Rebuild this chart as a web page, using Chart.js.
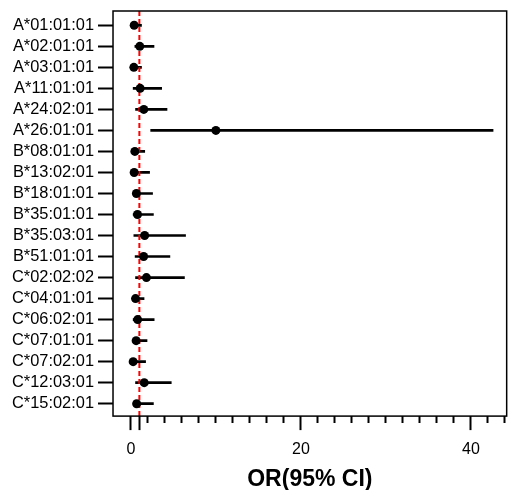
<!DOCTYPE html>
<html>
<head>
<meta charset="utf-8">
<script src="https://cdn.jsdelivr.net/npm/chart.js@4/dist/chart.umd.min.js"></script>
<style>
  html, body { margin: 0; padding: 0; background: #fff; }
  #wrap { width: 515px; height: 490px; }
</style>
</head>
<body>
<div id="wrap"><canvas id="forest"></canvas></div>
<script>
// alleles, top to bottom
var alleles = ['A*01:01:01', 'A*02:01:01', 'A*03:01:01', 'A*11:01:01', 'A*24:02:01', 'A*26:01:01',
    'B*08:01:01', 'B*13:02:01', 'B*18:01:01', 'B*35:01:01', 'B*35:03:01', 'B*51:01:01',
    'C*02:02:02', 'C*04:01:01', 'C*06:02:01', 'C*07:01:01', 'C*07:02:01', 'C*12:03:01', 'C*15:02:01'];
var orValues = [0.39, 1.05, 0.35, 1.09, 1.52, 10.0, 0.47, 0.39, 0.65, 0.78, 1.62, 1.5, 1.83, 0.55, 0.8, 0.62, 0.27, 1.57, 0.68];
var ciLow = [0.15, 0.47, 0.14, 0.27, 0.55, 2.33, 0.2, 0.16, 0.25, 0.27, 0.35, 0.5, 0.55, 0.22, 0.27, 0.25, 0.1, 0.55, 0.28];
var ciHigh = [1.25, 2.72, 1.25, 3.62, 4.25, 42.6, 1.63, 2.2, 2.55, 2.65, 6.43, 4.59, 6.3, 1.55, 2.74, 1.9, 1.73, 4.75, 2.65];
var refLine = 1;
var xTicks = [0, 1, 2, 4, 6, 8, 10, 12, 14, 16, 18, 20, 22, 24, 26, 28, 30, 32, 34, 36, 38, 40, 42, 44];
var xLabels = [0, 20, 40];
var longTicks = [0, 1, 20, 40];

var yMin = -0.68, yMax = 18.59;

Chart.defaults.font.family = '"Liberation Sans", Arial, sans-serif';
Chart.defaults.color = '#000';

var boxPlugin = {
    id: 'box',
    afterDatasetsDraw: function (chart) {
        var a = chart.chartArea;
        var c = chart.ctx;
        c.save();
        c.strokeStyle = '#000';
        c.lineWidth = 1.5;
        c.strokeRect(a.left, a.top, a.right - a.left, a.bottom - a.top);
        c.restore();
    }
};

var ctx = document.getElementById('forest').getContext('2d');
var chart = new Chart(ctx, {
    type: 'bar',
    data: {
        datasets: [
            {
                type: 'scatter',
                data: alleles.map(function (a, i) { return { x: orValues[i], y: i }; }),
                pointRadius: 4.5,
                pointBackgroundColor: '#000',
                pointBorderWidth: 0,
                order: 0
            },
            {
                type: 'line',
                data: [{ x: refLine, y: yMin }, { x: refLine, y: yMax }],
                borderColor: '#ff0000',
                borderWidth: 2,
                borderDash: [5, 3],
                pointRadius: 0,
                order: 1
            },
            {
                type: 'bar',
                indexAxis: 'y',
                data: alleles.map(function (a, i) { return { x: [ciLow[i], ciHigh[i]], y: i }; }),
                backgroundColor: '#000',
                borderWidth: 0,
                barThickness: 2,
                order: 2
            }
        ]
    },
    options: {
        responsive: true,
        maintainAspectRatio: false,
        animation: false,
        layout: { padding: { top: 11, right: 6, left: 8, bottom: 0 } },
        plugins: { legend: { display: false }, tooltip: { enabled: false } },
        scales: {
            x: {
                type: 'linear',
                offset: false,
                min: -2.1,
                max: 44.2,
                afterBuildTicks: function (s) {
                    s.ticks = xTicks.map(function (v) { return { value: v }; });
                },
                border: { display: false },
                grid: {
                    offset: false,
                    drawOnChartArea: false,
                    drawTicks: true,
                    tickLength: 14,
                    tickColor: '#000',
                    tickWidth: 2,
                    tickBorderDash: function (c) {
                        if (!c.tick) return [];
                        return longTicks.indexOf(c.tick.value) >= 0 ? [] : [7, 100];
                    }
                },
                ticks: {
                    autoSkip: false,
                    maxRotation: 0,
                    padding: 10,
                    font: { size: 16 },
                    callback: function (v) { return xLabels.indexOf(v) >= 0 ? String(v) : ''; }
                },
                title: {
                    display: true,
                    text: 'OR(95% CI)',
                    font: { size: 23, weight: 'bold', lineHeight: 0.9 },
                    padding: { top: 0, bottom: 0 }
                }
            },
            y: {
                type: 'linear',
                offset: false,
                reverse: true,
                min: yMin,
                max: yMax,
                afterBuildTicks: function (s) {
                    s.ticks = alleles.map(function (a, i) { return { value: i }; });
                },
                afterFit: function (s) {
                    s.paddingTop = 0;
                    s.paddingBottom = 0;
                },
                border: { display: false },
                grid: {
                    offset: false,
                    drawOnChartArea: false,
                    drawTicks: true,
                    tickLength: 15,
                    tickColor: '#000',
                    tickWidth: 2
                },
                ticks: {
                    autoSkip: false,
                    padding: 4,
                    font: { size: 16.4 },
                    callback: function (v) { return alleles[v]; }
                }
            }
        }
    },
    plugins: [boxPlugin]
});
</script>
</body>
</html>
